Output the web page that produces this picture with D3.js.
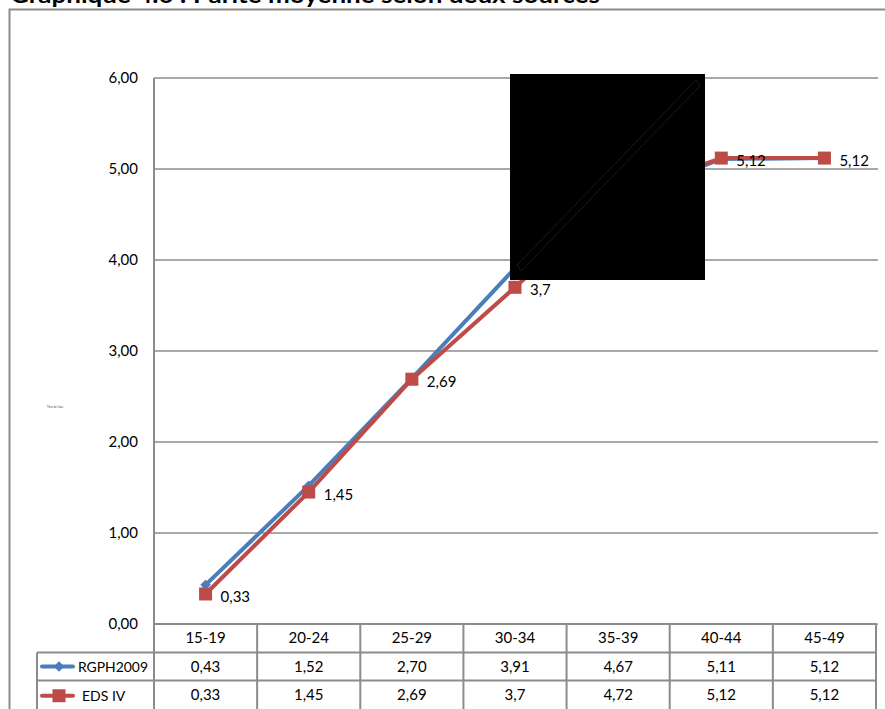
<!DOCTYPE html>
<html><head><meta charset="utf-8">
<script src="https://cdn.jsdelivr.net/npm/d3@7"></script>
<style>body{margin:0;background:#fff;}svg{display:block;font-family:Lato,"Open Sans",sans-serif;}</style>
</head><body><svg id="c" width="885" height="709"></svg>
<script>
const title = "Graphique 4.6 : Parité moyenne selon deux sources";
const categories = ["15-19","20-24","25-29","30-34","35-39","40-44","45-49"];
const rgph2009 = [0.43,1.52,2.70,3.91,4.67,5.11,5.12];
const rgphLabels = ["0,43","1,52","2,70","3,91","4,67","5,11","5,12"];
const edsIV = [0.33,1.45,2.69,3.7,4.72,5.12,5.12];
const edsLabels = ["0,33","1,45","2,69","3,7","4,72","5,12","5,12"];
const yTicks = [0,1,2,3,4,5,6];
const seriesNames = ["RGPH2009","EDS IV"];
const axisTitle = "Titre de l'axe";

const svg = d3.select("#c");
const pL = 154, pR = 876, pT = 78, pB = 624;
const fs = 15;
const x = d3.scaleBand().domain(categories).range([pL, pR]);
const y = d3.scaleLinear().domain([0,6]).range([pB, pT]);
const cx = d => x(d) + x.bandwidth()/2;
const fmt = v => d3.format(".2f")(v).replace(".", ",");

// outer frame
svg.append("path").attr("d","M9.5,709 V9.5 H885").attr("fill","none").attr("stroke","#8c8c8c").attr("stroke-width",2);
// title (cut off at top, as in the reference)
svg.append("text").attr("x",10).attr("y",3).attr("font-size",22).attr("font-weight","bold").attr("fill","#000")
  .attr("textLength",590).attr("lengthAdjust","spacingAndGlyphs").text(title);

// gridlines
svg.append("g").selectAll("line").data(yTicks).join("line")
  .attr("x1",pL).attr("x2",878).attr("y1",d=>y(d)).attr("y2",d=>y(d))
  .attr("stroke","#8c8c8c").attr("stroke-width",1.5);
// y axis
svg.append("line").attr("x1",pL).attr("x2",pL).attr("y1",pT).attr("y2",pB).attr("stroke","#8c8c8c").attr("stroke-width",2);
svg.append("g").selectAll("text").data(yTicks).join("text")
  .attr("x",138).attr("y",d=>y(d)+5).attr("text-anchor","end").attr("font-size",fs).attr("fill","#000").text(fmt);
// tiny axis title
svg.append("text").attr("x",55).attr("y",408).attr("text-anchor","middle").attr("font-size",3).attr("fill","#444").text(axisTitle);

// lines
const line = d3.line().x((d,i)=>cx(categories[i])).y(d=>y(d));
svg.append("path").datum(rgph2009).attr("d",line).attr("fill","none").attr("stroke","#4a7ebb").attr("stroke-width",4).attr("stroke-linejoin","round");
svg.append("g").selectAll("path").data(rgph2009).join("path")
  .attr("d",d3.symbol().type(d3.symbolDiamond2).size(70)())
  .attr("transform",(d,i)=>`translate(${cx(categories[i])},${y(d)})`).attr("fill","#4a7ebb");
svg.append("path").datum(edsIV).attr("d",line).attr("fill","none").attr("stroke","#be4b48").attr("stroke-width",4).attr("stroke-linejoin","round");
svg.append("g").selectAll("rect").data(edsIV).join("rect")
  .attr("x",(d,i)=>cx(categories[i])-6.5).attr("y",d=>y(d)-6.5).attr("width",13).attr("height",13).attr("fill","#be4b48");
svg.append("g").selectAll("text").data(edsIV).join("text")
  .attr("x",(d,i)=>cx(categories[i])+15).attr("y",d=>y(d)+8).attr("font-size",fs).attr("fill","#000").text((d,i)=>edsLabels[i]);

// black occluding box
svg.append("rect").attr("x",510).attr("y",74).attr("width",195).attr("height",206).attr("fill","#000");
svg.append("path").attr("d","M517,265 L696,80 L700,86 L521,271 Z").attr("fill","none").attr("stroke","#333").attr("stroke-width",0.5);

// data table
const rowY = [624, 652.5, 680.5, 712];
const g = svg.append("g");
const gc = "#8c8c8c";
g.append("line").attr("x1",pL).attr("x2",pR).attr("y1",rowY[0]).attr("y2",rowY[0]).attr("stroke",gc).attr("stroke-width",2);
g.append("line").attr("x1",37).attr("x2",pR).attr("y1",rowY[1]).attr("y2",rowY[1]).attr("stroke",gc).attr("stroke-width",2);
g.append("line").attr("x1",37).attr("x2",pR).attr("y1",rowY[2]).attr("y2",rowY[2]).attr("stroke",gc).attr("stroke-width",2);
const vx = categories.map(c=>x(c)).concat([pR]);
g.selectAll("line.v").data(vx).join("line").attr("class","v")
  .attr("x1",d=>d).attr("x2",d=>d).attr("y1",rowY[0]).attr("y2",709).attr("stroke",gc).attr("stroke-width",2);
g.append("line").attr("x1",37).attr("x2",37).attr("y1",rowY[1]).attr("y2",709).attr("stroke",gc).attr("stroke-width",2);
g.selectAll("text.h").data(categories).join("text").attr("class","h")
  .attr("x",d=>cx(d)).attr("y",rowY[0]+19).attr("text-anchor","middle").attr("font-size",fs).text(d=>d);
g.selectAll("text.r1").data(rgphLabels).join("text").attr("class","r1")
  .attr("x",(d,i)=>cx(categories[i])).attr("y",rowY[1]+19).attr("text-anchor","middle").attr("font-size",fs).text(d=>d);
g.selectAll("text.r2").data(edsLabels).join("text").attr("class","r2")
  .attr("x",(d,i)=>cx(categories[i])).attr("y",rowY[2]+19).attr("text-anchor","middle").attr("font-size",fs).text(d=>d);
const ly1 = (rowY[1]+rowY[2])/2, ly2 = (rowY[2]+709)/2+1;
g.append("line").attr("x1",42).attr("x2",73).attr("y1",ly1).attr("y2",ly1).attr("stroke","#4a7ebb").attr("stroke-width",4).attr("stroke-linecap","round");
g.append("path").attr("d",d3.symbol().type(d3.symbolDiamond2).size(70)()).attr("transform",`translate(59,${ly1})`).attr("fill","#4a7ebb");
g.append("text").attr("x",78).attr("y",ly1+5).attr("font-size",14).attr("textLength",70).attr("lengthAdjust","spacingAndGlyphs").text(seriesNames[0]);
g.append("line").attr("x1",42).attr("x2",73).attr("y1",ly2).attr("y2",ly2).attr("stroke","#be4b48").attr("stroke-width",4).attr("stroke-linecap","round");
g.append("rect").attr("x",52.5).attr("y",ly2-6.5).attr("width",13).attr("height",13).attr("fill","#be4b48");
g.append("text").attr("x",82).attr("y",ly2+5).attr("font-size",14).text(seriesNames[1]);
</script></body></html>
